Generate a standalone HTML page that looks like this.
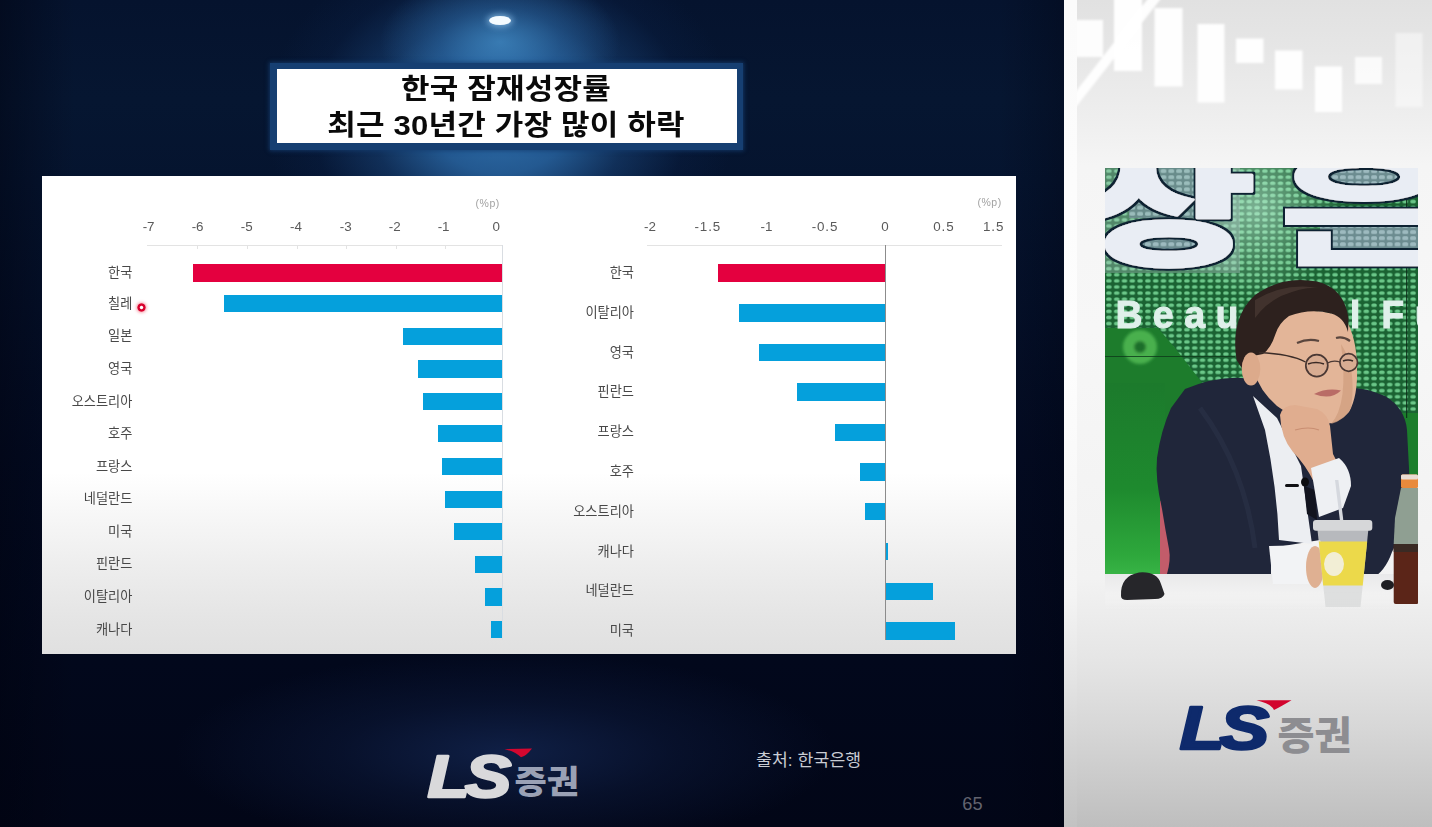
<!DOCTYPE html>
<html lang="ko">
<head>
<meta charset="utf-8">
<title>한국 잠재성장률</title>
<style>
html,body{margin:0;padding:0;}
body{width:1432px;height:827px;overflow:hidden;position:relative;background:#02081a;
 font-family:"Liberation Sans","Noto Sans CJK KR",sans-serif;}
.abs{position:absolute;}
#slide{left:0;top:0;width:1064px;height:827px;overflow:hidden;
 background:
  radial-gradient(ellipse 120px 70px at 500px 42px, rgba(66,140,198,.75) 0%, rgba(50,116,178,.4) 50%, rgba(30,80,140,0) 100%),
  radial-gradient(ellipse 235px 185px at 500px 118px, rgba(50,118,180,.95) 0%, rgba(42,104,166,.82) 30%, rgba(28,74,130,.5) 55%, rgba(14,42,88,.2) 80%, rgba(10,30,70,0) 100%),
  radial-gradient(ellipse 330px 100px at 505px 752px, rgba(17,34,74,.9) 0%, rgba(12,25,58,.55) 50%, rgba(4,10,30,0) 100%),
  linear-gradient(90deg,rgba(0,2,14,.45) 0,rgba(0,2,14,0) 7%,rgba(0,2,14,0) 94%,rgba(0,2,14,.3) 100%),
  linear-gradient(180deg,#05132e 0%,#061631 12%,#05142f 22%,#030b22 55%,#02081c 80%,#020617 100%);}
#lamp{left:489px;top:16px;width:22px;height:9px;border-radius:50%;background:#f4fbff;box-shadow:0 0 6px 2px rgba(150,200,240,.7);}
#titleframe{left:270px;top:63px;width:473px;height:87px;background:#163f72;box-shadow:0 0 4px 1px rgba(20,60,110,.8);}
#title{left:277px;top:69px;width:460px;height:74px;background:#fff;color:#0a0a0a;text-align:center;
 font-weight:700;font-size:28px;line-height:36px;letter-spacing:.2px;}
#title div{filter:blur(.35px);position:absolute;left:-1.5px;width:100%;white-space:nowrap;transform:scale(1.107,1);transform-origin:50% 50%;}
#panel{left:42px;top:176px;width:974px;height:478px;
 background:linear-gradient(180deg,#ffffff 0%,#ffffff 62%,#f6f6f6 72%,#ededed 82%,#e5e5e5 92%,#e0e0e0 100%);}
.lab{position:absolute;font-size:13.2px;line-height:16px;color:#484848;text-align:right;white-space:nowrap;font-weight:400;}
.tick{position:absolute;font-size:13.4px;line-height:14px;color:#5a5a5a;width:40px;text-align:center;white-space:nowrap;}
.bar{position:absolute;background:#05a0dc;}
.bar.red{background:#e4003f;}
#panel>*{filter:blur(.45px);}
.unit{position:absolute;font-size:10.5px;color:#a2a2a2;line-height:12px;letter-spacing:.5px;}
</style>
</head>
<body>
<div id="slide" class="abs">
  <div id="lamp" class="abs"></div>
  <div id="titleframe" class="abs"></div>
  <div id="title" class="abs">
    <div style="top:2.8px">한국 잠재성장률</div>
    <div style="top:38.8px">최근 30년간 가장 많이 하락</div>
  </div>
  <div id="panel" class="abs">
    <!--CS-->
    <div class="abs" style="left:105px;top:68.5px;width:355px;height:1px;background:#e3e3e3"></div>
    <div class="abs" style="left:155.4px;top:69px;width:1px;height:4px;background:#e3e3e3"></div>
    <div class="abs" style="left:204.9px;top:69px;width:1px;height:4px;background:#e3e3e3"></div>
    <div class="abs" style="left:254.5px;top:69px;width:1px;height:4px;background:#e3e3e3"></div>
    <div class="abs" style="left:304.0px;top:69px;width:1px;height:4px;background:#e3e3e3"></div>
    <div class="abs" style="left:353.5px;top:69px;width:1px;height:4px;background:#e3e3e3"></div>
    <div class="abs" style="left:403.0px;top:69px;width:1px;height:4px;background:#e3e3e3"></div>
    <div class="abs" style="left:459.5px;top:69px;width:1px;height:395px;background:#d9dde2"></div>
    <div class="tick" style="left:86.6px;top:44.0px">-7</div>
    <div class="tick" style="left:135.6px;top:44.0px">-6</div>
    <div class="tick" style="left:184.8px;top:44.0px">-5</div>
    <div class="tick" style="left:234.0px;top:44.0px">-4</div>
    <div class="tick" style="left:283.7px;top:44.0px">-3</div>
    <div class="tick" style="left:332.7px;top:44.0px">-2</div>
    <div class="tick" style="left:381.6px;top:44.0px">-1</div>
    <div class="tick" style="left:434.2px;top:44.0px">0</div>
    <div class="unit" style="left:433.6px;top:20.5px">(%p)</div>
    <div class="bar red" style="left:151.0px;top:88.2px;width:309.0px;height:17.4px"></div>
    <div class="lab" style="right:883.7px;top:88.9px">한국</div>
    <div class="bar" style="left:181.5px;top:119.2px;width:278.5px;height:16.9px"></div>
    <div class="lab" style="right:883.7px;top:119.6px">칠레</div>
    <div class="bar" style="left:360.7px;top:151.6px;width:99.3px;height:17.4px"></div>
    <div class="lab" style="right:883.7px;top:152.3px">일본</div>
    <div class="bar" style="left:376.1px;top:184.4px;width:83.9px;height:17.4px"></div>
    <div class="lab" style="right:883.7px;top:185.1px">영국</div>
    <div class="bar" style="left:380.8px;top:217.0px;width:79.2px;height:17.4px"></div>
    <div class="lab" style="right:883.7px;top:217.7px">오스트리아</div>
    <div class="bar" style="left:395.9px;top:249.4px;width:64.1px;height:17.1px"></div>
    <div class="lab" style="right:883.7px;top:249.9px">호주</div>
    <div class="bar" style="left:400.3px;top:281.9px;width:59.7px;height:17.5px"></div>
    <div class="lab" style="right:883.7px;top:282.6px">프랑스</div>
    <div class="bar" style="left:402.6px;top:314.5px;width:57.4px;height:17.4px"></div>
    <div class="lab" style="right:883.7px;top:315.2px">네덜란드</div>
    <div class="bar" style="left:412.0px;top:347.3px;width:48.0px;height:16.8px"></div>
    <div class="lab" style="right:883.7px;top:347.7px">미국</div>
    <div class="bar" style="left:432.8px;top:379.8px;width:27.2px;height:17.1px"></div>
    <div class="lab" style="right:883.7px;top:380.3px">핀란드</div>
    <div class="bar" style="left:442.5px;top:412.3px;width:17.5px;height:17.5px"></div>
    <div class="lab" style="right:883.7px;top:413.0px">이탈리아</div>
    <div class="bar" style="left:449.2px;top:444.9px;width:10.8px;height:17.1px"></div>
    <div class="lab" style="right:883.7px;top:445.5px">캐나다</div>
    <div class="abs" style="left:605.4px;top:68.5px;width:354.3px;height:1px;background:#e3e3e3"></div>
    <div class="tick" style="left:588.0px;top:44.0px">-2</div>
    <div class="tick" style="left:645.8px;top:44.0px;letter-spacing:.9px">-1.5</div>
    <div class="tick" style="left:704.5px;top:44.0px">-1</div>
    <div class="tick" style="left:763.0px;top:44.0px;letter-spacing:.9px">-0.5</div>
    <div class="tick" style="left:823.0px;top:44.0px">0</div>
    <div class="tick" style="left:881.9px;top:44.0px;letter-spacing:.9px">0.5</div>
    <div class="tick" style="left:931.7px;top:44.0px;letter-spacing:.9px">1.5</div>
    <div class="unit" style="left:935.5px;top:20.0px">(%p)</div>
    <div class="bar red" style="left:676.4px;top:88.2px;width:166.6px;height:18.0px"></div>
    <div class="lab" style="right:382.1px;top:89.2px">한국</div>
    <div class="bar" style="left:697.2px;top:127.7px;width:145.8px;height:18.0px"></div>
    <div class="lab" style="right:382.1px;top:128.7px">이탈리아</div>
    <div class="bar" style="left:716.5px;top:167.8px;width:126.5px;height:17.7px"></div>
    <div class="lab" style="right:382.1px;top:168.6px">영국</div>
    <div class="bar" style="left:755.0px;top:207.3px;width:88.0px;height:17.7px"></div>
    <div class="lab" style="right:382.1px;top:208.1px">핀란드</div>
    <div class="bar" style="left:793.0px;top:247.5px;width:50.0px;height:17.7px"></div>
    <div class="lab" style="right:382.1px;top:248.4px">프랑스</div>
    <div class="bar" style="left:818.4px;top:287.3px;width:24.6px;height:17.4px"></div>
    <div class="lab" style="right:382.1px;top:288.0px">호주</div>
    <div class="bar" style="left:823.2px;top:327.2px;width:19.8px;height:17.3px"></div>
    <div class="lab" style="right:382.1px;top:327.9px">오스트리아</div>
    <div class="bar" style="left:843.0px;top:367.3px;width:3.3px;height:17.0px"></div>
    <div class="lab" style="right:382.1px;top:367.8px">캐나다</div>
    <div class="bar" style="left:843.0px;top:406.5px;width:47.6px;height:17.7px"></div>
    <div class="lab" style="right:382.1px;top:407.4px">네덜란드</div>
    <div class="bar" style="left:843.0px;top:446.3px;width:70.1px;height:17.7px"></div>
    <div class="lab" style="right:382.1px;top:447.1px">미국</div>
    <div class="abs" style="left:842.6px;top:69px;width:1px;height:395px;background:#8c8c8c"></div>
    <div class="abs" style="left:95.0px;top:126.5px;width:9px;height:9px;border-radius:50%;background:radial-gradient(circle,#fff 0,#fff 1.2px,#d8002c 2.2px,#d8002c 3.6px,rgba(230,40,70,.55) 4.5px);box-shadow:0 0 3px 1px rgba(240,80,100,.45)"></div>
    <!--CE-->
  </div>
  <!--FS-->
  <div class="abs" id="logoL" style="left:420px;top:742px;width:170px;height:64px;">
    <svg width="170" height="64" viewBox="0 0 170 64" style="position:absolute;left:0;top:0;overflow:visible">
      <text x="0" y="0" transform="translate(7.6,55) scale(1.416,1.21)" font-family="Liberation Sans, sans-serif" font-weight="700" font-style="italic" font-size="49" fill="#d9d9db" stroke="#d9d9db" stroke-width="2.2" stroke-linejoin="round" letter-spacing="-3.5">LS</text>
      <path d="M84.5 7.2 L112 6.6 Q106 14.5 101 15.2 Q95 9.5 84.5 7.2 Z" fill="#d4072f"/>
      <text x="94.5" y="50.9" font-family="Noto Sans CJK KR, sans-serif" font-weight="900" font-size="32.3" fill="#9aa1b5" textLength="64.5" lengthAdjust="spacingAndGlyphs">증권</text>
    </svg>
  </div>
  <div class="abs" style="left:756px;top:748px;font-size:17.2px;line-height:24px;color:#c9ccd3;white-space:nowrap;letter-spacing:.1px">출처: 한국은행</div>
  <div class="abs" style="left:962.3px;top:794px;font-size:18.2px;line-height:20px;color:#62636f;white-space:nowrap">65</div>
  <!--FE-->
</div>
<!--RS-->
<div class="abs" id="rstrip" style="left:1064px;top:0;width:14px;height:827px;background:linear-gradient(180deg,#fbfbfb 0%,#fdfdfd 45%,#f4f4f4 72%,#e4e4e4 82%,#d0d0d0 92%,#c2c2c2 100%)"></div>
<div class="abs" id="rpanel" style="left:1077px;top:0;width:355px;height:827px;overflow:hidden;
  background:linear-gradient(180deg,#e1e1e1 0%,#e6e6e6 6%,#eeeeee 14%,#f5f5f5 20%,#f7f7f7 40%,#f2f2f2 70%,#e5e5e5 80%,#d7d7d7 88%,#c9c9c9 95%,#bebebe 100%)">
  <svg width="355" height="130" viewBox="1077 0 355 130" style="position:absolute;left:0;top:0">
    <defs><filter id="cb" x="-20%" y="-20%" width="140%" height="140%"><feGaussianBlur stdDeviation="1.3"/></filter></defs>
    <g filter="url(#cb)" fill="#ffffff">
      <rect x="1072" y="20" width="31" height="37" opacity=".93"/>
      <rect x="1114" y="-5" width="28" height="76" opacity=".98"/>
      <rect x="1154.5" y="8" width="28" height="78.5" opacity=".95"/>
      <rect x="1197.5" y="24" width="27" height="78.5" opacity=".95"/>
      <rect x="1236" y="38.5" width="27.5" height="24.5" opacity=".95"/>
      <rect x="1275" y="50.5" width="27.5" height="39" opacity=".95"/>
      <rect x="1315" y="66.5" width="27" height="45.5" opacity=".97"/>
      <rect x="1355" y="57" width="27" height="27" opacity=".8"/>
      <rect x="1395.5" y="33" width="27" height="74" opacity=".45"/>
      <path d="M1070 99 L1076 107 L1163 -4 L1150 -4 Z" opacity=".95"/>
    </g>
  </svg>
</div>
<div class="abs" id="photo" style="left:1105px;top:168px;width:313px;height:442px;overflow:hidden">
<!--PS-->
<svg width="313" height="442" viewBox="0 0 313 442" style="position:absolute;left:0;top:0;filter:blur(.5px)">
  <defs>
    <pattern id="dots" width="7.8" height="6.1" patternUnits="userSpaceOnUse">
      <rect width="7.8" height="6.1" fill="#14552a"/>
      <rect x="1.2" y="1.2" width="5.4" height="3.7" rx="1.7" fill="#7cd698"/>
    </pattern>
    <pattern id="gdots" width="7.8" height="6.1" patternUnits="userSpaceOnUse">
      <rect width="7.8" height="6.1" fill="#6c8c90"/>
      <rect x="1" y="1" width="5.8" height="4.1" rx="1.4" fill="#9dbabf"/>
    </pattern>
    <linearGradient id="gl" x1="0" y1="0" x2="0" y2="1">
      <stop offset="0" stop-color="#1c7a2c"/><stop offset=".55" stop-color="#1e8a2e"/><stop offset=".9" stop-color="#2ea83c"/><stop offset="1" stop-color="#38b446"/>
    </linearGradient>
    <linearGradient id="desk" x1="0" y1="0" x2="0" y2="1">
      <stop offset="0" stop-color="#e9e9ea"/><stop offset=".5" stop-color="#f1f1f1"/><stop offset="1" stop-color="#f4f4f4" stop-opacity="0"/>
    </linearGradient>
    <radialGradient id="lite" cx="150" cy="40" r="90" gradientUnits="userSpaceOnUse">
      <stop offset="0" stop-color="#c8f0e0" stop-opacity=".55"/><stop offset="1" stop-color="#c8f0e0" stop-opacity="0"/>
    </radialGradient>
    <filter id="ol" x="-5%" y="-5%" width="110%" height="110%">
      <feMorphology in="SourceAlpha" operator="dilate" radius="2.2" result="d"/>
      <feFlood flood-color="#0f2233"/><feComposite in2="d" operator="in" result="o"/>
      <feMerge><feMergeNode in="o"/><feMergeNode in="SourceGraphic"/></feMerge>
    </filter>
    <clipPath id="cu"><rect x="180.5" y="-10" width="140" height="120"/></clipPath>
    <filter id="sb"><feGaussianBlur stdDeviation="0.7"/></filter>
    <filter id="sb2"><feGaussianBlur stdDeviation="1.6"/></filter>
  </defs>
  <!-- dotted LED wall -->
  <rect x="-2" y="-2" width="317" height="254" fill="url(#dots)" filter="url(#sb)"/>
  <rect x="0" y="0" width="313" height="250" fill="#2f9250" opacity=".22"/>
  <rect x="0" y="0" width="313" height="250" fill="url(#lite)"/>
  <rect x="0" y="0" width="135" height="105" fill="#b9cfd0" opacity=".35"/>
  <!-- solid green lower-left -->
  <path d="M0 160 L53 160 L70 180 L88 203 L102 221 L102 260 L0 260 Z" fill="#1d7c2c"/>
  <g filter="url(#sb2)"><circle cx="35" cy="179" r="17" fill="#48b04e"/><circle cx="35" cy="179" r="6" fill="#1f6e2a"/></g>
  <rect x="0" y="188" width="130" height="1" fill="#0e3a1a" opacity=".8"/>
  <rect x="0" y="215" width="60" height="192" fill="url(#gl)"/>
  <rect x="296" y="245" width="17" height="70" fill="#1c7e2c"/>
  <rect x="301" y="0" width="1.2" height="250" fill="#0c2a18" opacity=".85"/>
  <!-- big letters on the wall -->
  <rect x="30" y="62" width="66" height="22" fill="url(#gdots)"/>
  <rect x="215" y="0" width="98" height="22" fill="url(#gdots)"/>
  <rect x="215" y="55" width="98" height="26" fill="url(#gdots)"/>
  <rect x="24" y="0" width="75" height="50" fill="url(#gdots)" opacity=".85"/>
  <g filter="url(#ol)" font-family="Noto Sans CJK KR, sans-serif" font-weight="900" font-size="125" fill="#e9edf4">
    <text transform="translate(-26.7,86.5) scale(1.545,1)" x="0" y="0" stroke="#e9edf4" stroke-width="2.5" stroke-linejoin="round">상</text>
    <g clip-path="url(#cu)"><text transform="translate(166,88) scale(1.62,1.02)" x="0" y="0">은</text></g>
  </g>
  <!-- Beautiful F... caption -->
  <text transform="translate(10.65,159.9) scale(.97,1)" font-family="Liberation Sans, sans-serif" font-weight="700" font-size="38" fill="#dff0ea" stroke="#dff0ea" stroke-width="1.2" letter-spacing="11.2" filter="url(#sb)"><tspan x="0" y="0">Beautiful </tspan><tspan x="274.1" y="0">Fu</tspan></text>
  <!-- chair -->
  <path d="M55 333 L67 330 L72 406 L55 406 Z" fill="#c25c6a"/>
  <!-- suit -->
  <path d="M80 221 Q120 205 150 212 L235 218 Q262 220 280 228 Q300 240 302 262 L304 300 Q306 340 296 366 L287 384 Q280 404 266 411 L232 411 L215 372 L166 380 L166 413 L120 412 L62 406 Q66 392 64 381 Q60 360 57 341 Q50 310 52 290 Q56 262 66 240 Z" fill="#20263a"/>
  <path d="M95 240 Q140 300 150 380" stroke="#2a3046" stroke-width="5" fill="none" opacity=".7"/>
  <!-- shirt -->
  <path d="M148 228 L172 250 L196 298 L207 376 L174 372 Q172 320 160 262 Z" fill="#eceef2"/>
  <path d="M199 318 L210 322 L212 352 L202 346 Z" fill="#12141f"/>
  <ellipse cx="200" cy="314" rx="4" ry="4.5" fill="#0c0c10"/>
  <rect x="180" y="316" width="14" height="3" rx="1.5" fill="#101014"/>
  <!-- hair / head -->
  <path d="M150 192 Q154 160 180 146 Q212 138 240 150 Q252 170 252 200 Q253 228 244 244 Q232 258 214 256 Q190 252 172 238 Q154 222 150 205 Z" fill="#e3b598"/>
  <path d="M236 176 Q252 200 246 240 Q240 252 226 256 Q244 236 236 176 Z" fill="#cf9c7e" opacity=".7"/>
  <path d="M131.6 192 Q125 150 150 127 Q178 107 212 113.5 Q239 120 243.5 150 L243 164 Q239 149 226 145.5 Q205 140 184 148 Q174 155 170.5 166 Q166 180 158 186 L148 188 Q140 192 138 202 Z" fill="#2d211e"/>
  <path d="M150 132 Q180 114 214 120 Q200 118 176 128 Q160 136 150 150 Z" fill="#4a3a33" opacity=".7"/>
  <ellipse cx="146" cy="201" rx="9.3" ry="16.5" fill="#dcaa8b"/>
  <path d="M154 184.5 Q186 186 200.5 194" stroke="#3a2c28" stroke-width="1.4" fill="none"/>
  <circle cx="211.8" cy="197.6" r="11" fill="#d8ac92" stroke="#4a3834" stroke-width="1.7"/>
  <circle cx="243.7" cy="194.5" r="8.8" fill="#d8ac92" stroke="#4a3834" stroke-width="1.7"/>
  <path d="M222.5 195 Q228 192 235 194" stroke="#4a3834" stroke-width="1.3" fill="none"/>
  <path d="M192 175 Q203 170 214 173" stroke="#5a463e" stroke-width="2.2" fill="none"/>
  <path d="M231 170 Q238 168 245 173" stroke="#5a463e" stroke-width="2.2" fill="none"/>
  <path d="M203 196 Q211 193 219 196" stroke="#3a2a26" stroke-width="1.6" fill="none"/>
  <path d="M238 193 Q243 191 248 193" stroke="#3a2a26" stroke-width="1.6" fill="none"/>
  <path d="M209 226 Q222 219.5 236 222.5 Q226 232.5 209 226 Z" fill="#b96c66"/>
  <!-- hand on chin -->
  <path d="M175 247 Q178 237 190 237 L212 241 Q223 246 225 258 L228 286 Q236 300 236 312 L209 314 Q200 296 188 284 Q176 270 175 247 Z" fill="#e0ad8f"/>
  <path d="M190 262 Q204 258 214 262" stroke="#c98e72" stroke-width="1.2" fill="none"/>
  <!-- right cuff -->
  <path d="M206 300 L234 290 Q246 300 246 318 L238 340 L214 349 Z" fill="#eef0f3"/>
  <!-- desk -->
  <rect x="0" y="406" width="313" height="36" fill="url(#desk)"/>
  <!-- left cuff + hand on desk -->
  <path d="M164 378 L208 377 L210 416 L168 416 Z" fill="#f2f3f5"/>
  <ellipse cx="210" cy="399" rx="9" ry="21" fill="#dfb092"/>
  <!-- straw + cup -->
  <path d="M230 312 L233.4 312 L238.4 353 L235 353 Z" fill="#d5d8de"/>
  <path d="M212.5 362 L263.3 362 L255.5 439 L220.5 439 Z" fill="#d9dadb" opacity=".82"/>
  <path d="M213.8 373.4 L262.2 373.4 L257.7 417.5 L218.2 417.5 Z" fill="#ecd94a"/>
  <ellipse cx="229" cy="396" rx="10" ry="12" fill="#f3f0e4" opacity=".9"/>
  <rect x="208" y="352" width="59.3" height="10.7" rx="3" fill="#d6d7d9"/>
  <!-- bottle -->
  <path d="M296 320 L313 320 L313 376 L288.7 376 L290 350 Z" fill="#8f9f92"/>
  <rect x="288.7" y="376" width="25" height="60" rx="2" fill="#5b2518"/>
  <rect x="288.7" y="376" width="25" height="8" fill="#3a2a24"/>
  <rect x="296" y="306.5" width="17" height="13.5" rx="1.5" fill="#e98a3c"/>
  <rect x="296" y="306.5" width="17" height="5" rx="1.5" fill="#e9dcd4"/>
  <!-- mouse + small object -->
  <path d="M16 428 Q15 408 34 404.5 Q52 403 56 416 L59.5 426 Q58 431 50 431 L22 432 Q16 432 16 428 Z" fill="#26262a"/>
  <ellipse cx="282.5" cy="417" rx="6.5" ry="5" fill="#1e1e22"/>
</svg>
<!--PE-->
</div>
<div class="abs" id="logoR" style="left:1170px;top:690px;width:200px;height:72px;">
  <svg width="200" height="72" viewBox="0 0 200 72" style="position:absolute;left:0;top:0;overflow:visible">
    <text x="0" y="0" transform="translate(9.8,59.3) scale(1.51,1.24)" font-family="Liberation Sans, sans-serif" font-weight="700" font-style="italic" font-size="49" fill="#0e2a6c" stroke="#0e2a6c" stroke-width="2.2" stroke-linejoin="round" letter-spacing="-3.5">LS</text>
    <path d="M86.5 10.2 L121.5 10.2 Q110 17 104 20 Q101 13.5 86.5 10.2 Z" fill="#d2042d"/>
    <text x="107.5" y="59.4" font-family="Noto Sans CJK KR, sans-serif" font-weight="900" font-size="39" fill="#8d8d91" textLength="74" lengthAdjust="spacingAndGlyphs">증권</text>
  </svg>
</div>
<!--RE-->
</body>
</html>
